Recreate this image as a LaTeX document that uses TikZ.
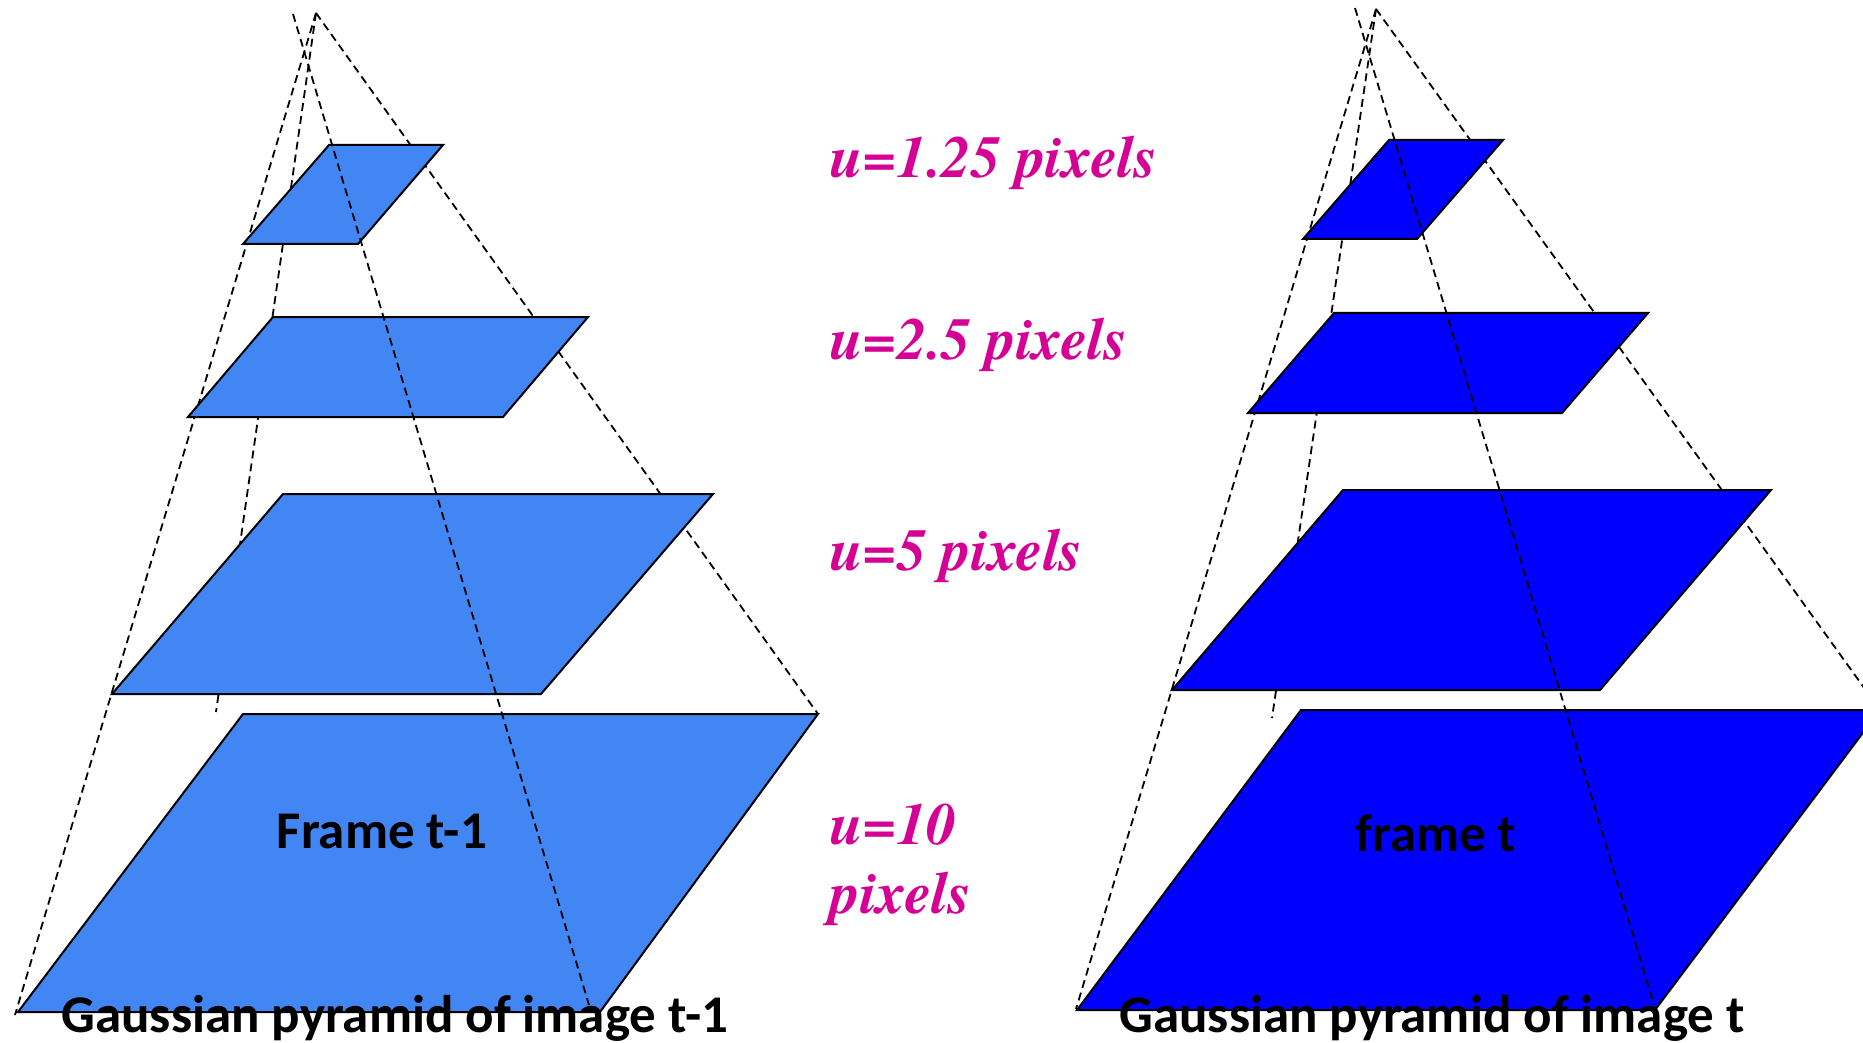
\documentclass[tikz,border=0pt]{standalone}
\usepackage{fontspec}
\newfontfamily\tms{texgyretermes-bolditalic.otf}
\newfontfamily\calib{Carlito}
\definecolor{lvlblue}{RGB}{66,134,244}
\definecolor{lvldark}{RGB}{0,0,255}
\definecolor{umag}{RGB}{213,0,148}

\begin{document}
\begin{tikzpicture}[x=0.5pt,y=-0.5pt,
  plane/.style={draw=black, line width=1pt},
  ray/.style={black, line width=0.9pt, dash pattern=on 4pt off 2.5pt},
  ulab/.style={anchor=base west, inner sep=0pt, text=umag, font=\tms\fontsize{29.7}{34.5}\selectfont},
  flab/.style={anchor=base, inner sep=0pt, font=\calib\bfseries\fontsize{26.5}{30}\selectfont}]
\useasboundingbox (0,0) rectangle (1863,1043);
\coordinate (a1) at (316,13);
\coordinate (a2) at (293,14);
\coordinate (b1) at (1376,9);
\coordinate (b2) at (1355,8);
\coordinate (aback) at (216,712);
\coordinate (aleft) at (15,1015);
\coordinate (aright) at (818,714);
\coordinate (afront) at (589,1005);
\coordinate (bback) at (1272,718);
\coordinate (bleft) at (1076,1009);
\coordinate (bright) at (1880,710);
\coordinate (bfront) at (1654,1005);
\draw[ray] (a1) -- (aback);
\draw[ray] (a1) -- (aleft);
\draw[ray] (a1) -- (aright);
\draw[ray] (b1) -- (bback);
\draw[ray] (b1) -- (bleft);
\draw[ray] (b1) -- (bright);
\filldraw[plane, fill=lvlblue] (243,244) -- (358,244) -- (443,145) -- (329,145) -- cycle;
\filldraw[plane, fill=lvlblue] (188,417) -- (503,417) -- (588,317) -- (273,317) -- cycle;
\filldraw[plane, fill=lvlblue] (112,694) -- (541,694) -- (713,494) -- (283,494) -- cycle;
\filldraw[plane, fill=lvlblue] (18,1012) -- (600,1012) -- (818,714) -- (243,714) -- cycle;
\filldraw[plane, fill=lvldark] (1303,239) -- (1417,239) -- (1503,140) -- (1389,140) -- cycle;
\filldraw[plane, fill=lvldark] (1248,413) -- (1562,413) -- (1648,313) -- (1334,313) -- cycle;
\filldraw[plane, fill=lvldark] (1172,690) -- (1600,690) -- (1771,490) -- (1343,490) -- cycle;
\filldraw[plane, fill=lvldark] (1077,1010) -- (1655,1010) -- (1880,710) -- (1301,710) -- cycle;
\draw[ray] (a2) -- (afront);
\draw[ray] (b2) -- (bfront);
\node[ulab] (u1) at (830,178) {u=1.25 pixels};
\node[ulab] (u2) at (830,359) {u=2.5 pixels};
\node[ulab] (u3) at (830,570) {u=5 pixels};
\node[ulab, align=left] (u4) at (830,913) {u=10\\pixels};
\node[flab] (fr1) at (382,848) {Frame t-1};
\node[flab] (gp1) at (395,1032) {Gaussian pyramid of image t-1};
\node[flab] (fr2) at (1436,851) {frame t};
\node[flab] (gp2) at (1432,1032) {Gaussian pyramid of image t};
\end{tikzpicture}
\end{document}
